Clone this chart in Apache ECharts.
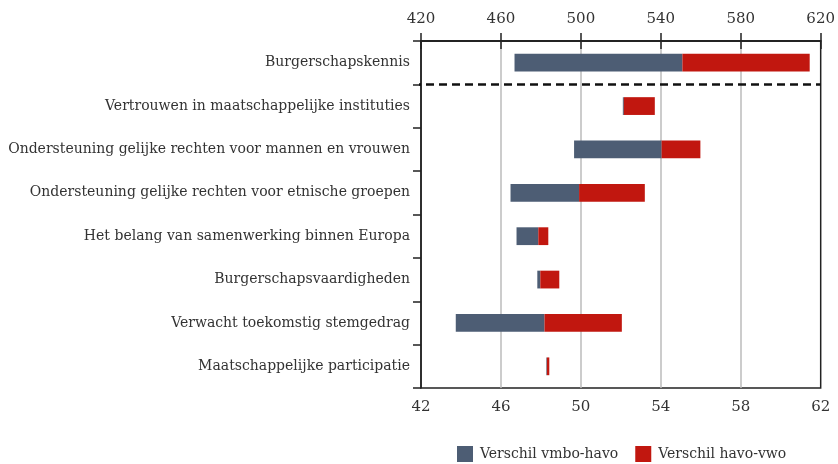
<!DOCTYPE html>
<html><head><meta charset="utf-8">
<script src="https://cdn.jsdelivr.net/npm/echarts@6/dist/echarts.min.js"></script>
<style>html,body{margin:0;padding:0;background:#fff}#c{width:838px;height:464px}</style>
</head><body><div id="c"></div>
<script>
const categories = [
  'Burgerschapskennis',
  'Vertrouwen in maatschappelijke instituties',
  'Ondersteuning gelijke rechten voor mannen en vrouwen',
  'Ondersteuning gelijke rechten voor etnische groepen',
  'Het belang van samenwerking binnen Europa',
  'Burgerschapsvaardigheden',
  'Verwacht toekomstig stemgedrag',
  'Maatschappelijke participatie'
];
// scores per school type (first row on top axis 420-620, rest on bottom axis 42-62)
const vmbo = [466.8, 52.1, 49.66, 46.48, 46.78, 47.82, 43.74, 48.27];
const havo = [550.8, 52.15, 54.04, 49.91, 47.87, 47.97, 48.18, 48.3];
const vwo  = [614.5, 53.7, 55.98, 53.2, 48.37, 48.92, 52.05, 48.42];
const topTicks = [420, 460, 500, 540, 580, 620];
const bottomTicks = [42, 46, 50, 54, 58, 62];
const seriesNames = ['Verschil vmbo-havo', 'Verschil havo-vwo'];
// separator between the knowledge score (top scale) and the other scales (bottom scale)
const separatorRow = 1;      // boundary before category index 1
const separatorX = [416, 620];

const FONT = 'DejaVu Serif';
const onTop = (i) => i === 0;
function pick(arr, top) { return arr.map((v, i) => (onTop(i) === top ? v : '-')); }
const diff1 = vmbo.map((v, i) => +(havo[i] - v).toFixed(3));
const diff2 = havo.map((v, i) => +(vwo[i] - v).toFixed(3));

function mk(top, axisIdx) {
  const stack = top ? 'top' : 'bottom';
  const common = { type: 'bar', stack, xAxisIndex: axisIdx, yAxisIndex: 0, barWidth: '41%', barGap: '-100%' };
  return [
    Object.assign({}, common, { name: 'base' + stack, data: pick(vmbo, top), itemStyle: { color: 'transparent' }, silent: true }),
    Object.assign({}, common, { name: seriesNames[0], data: pick(diff1, top), itemStyle: { color: '#4d5d74' } }),
    Object.assign({}, common, { name: seriesNames[1], data: pick(diff2, top), itemStyle: { color: '#c1170f' } })
  ];
}

const axisLineStyle = { color: '#222', width: 1.5 };
const chart = echarts.init(document.getElementById('c'));
chart.setOption({
  animation: false,
  textStyle: { fontFamily: FONT, color: '#333' },
  grid: { left: 421, right: 15, top: 41, bottom: 76, show: true, borderColor: '#222', borderWidth: 1.5, backgroundColor: 'transparent' },
  legend: {
    bottom: 2, left: 457, padding: 0, itemWidth: 16, itemHeight: 16, itemGap: 17,
    data: seriesNames, icon: 'rect',
    textStyle: { fontFamily: FONT, fontSize: 14, color: '#333', padding: [0, 0, 0, 2] }
  },
  xAxis: [
    { type: 'value', position: 'bottom', min: bottomTicks[0], max: bottomTicks[bottomTicks.length - 1], interval: 4,
      axisLine: { show: true, lineStyle: axisLineStyle },
      axisTick: { show: true, length: 8, lineStyle: axisLineStyle },
      axisLabel: { fontSize: 15, color: '#333', margin: 12, fontFamily: FONT },
      splitLine: { show: true, showMinLine: false, showMaxLine: false, lineStyle: { color: '#bbb', width: 1.5 } } },
    { type: 'value', position: 'top', min: topTicks[0], max: topTicks[topTicks.length - 1], interval: 40,
      axisLine: { show: true, lineStyle: axisLineStyle },
      axisTick: { show: true, length: 8, lineStyle: axisLineStyle },
      axisLabel: { fontSize: 15, color: '#333', margin: 14, fontFamily: FONT },
      splitLine: { show: false } }
  ],
  yAxis: [
    { type: 'category', inverse: true, data: categories,
      axisLine: { show: true, lineStyle: axisLineStyle },
      axisTick: { show: true, length: 8, lineStyle: axisLineStyle },
      axisLabel: { fontSize: 14, color: '#333', margin: 11, fontFamily: FONT },
      splitLine: { show: false } },
    { type: 'value', inverse: true, min: 0, max: categories.length, show: false,
      splitLine: { show: false } }
  ],
  series: [
    ...mk(false, 0), ...mk(true, 1),
    { type: 'line', name: 'separator', xAxisIndex: 1, yAxisIndex: 1, clip: false, silent: true,
      symbol: 'none', z: 5,
      data: separatorX.map((x) => [x, separatorRow]),
      lineStyle: { color: '#111', width: 2.5, type: [8, 5] } }
  ]
});
</script></body></html>
